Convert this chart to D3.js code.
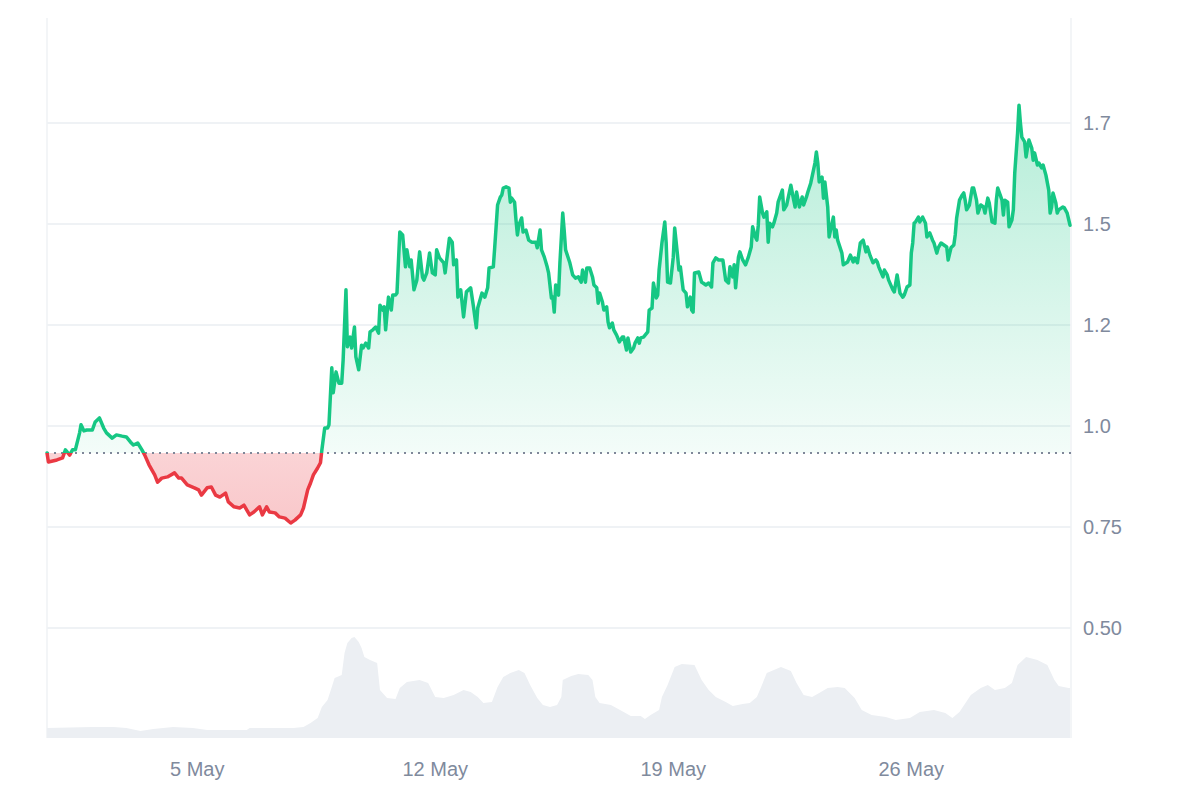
<!DOCTYPE html>
<html><head><meta charset="utf-8">
<script src="https://cdn.jsdelivr.net/npm/d3@7"></script>
<style>
html,body{margin:0;padding:0;background:#fff;}
svg{display:block;font-family:"Liberation Sans",Arial,Helvetica,sans-serif;}
</style>
</head><body>
<svg id="chart" width="1200" height="800"></svg>
<script>
// ---- data ----
const startTime = Date.UTC(2024, 3, 30, 14); // 30 Apr 14:00 UTC
const priceHours = [0,1,7,11,13,16,18,20,23,24,26,28,32,34,37,40,42,46,49,53,56,59,61,64,67,69,72,76,78,81,85,90,93,95,99,104,107,109,113,116,119,122,126,128,132,136,139,143,146,150,152,155,157,161,164,168,172,175,179,181,184,186,188,191,193,194,196,198,199,201,202,204,206,208,209,211,212,214,215,217,218,220,222,223,225,227,228,230,232,234,235,237,238,239,241,243,244,246,247,249,251,253,254,256,257,259,261,263,265,266,268,270,272,274,275,277,280,281,284,286,287,289,290,292,294,296,299,301,303,304,307,309,311,312,315,316,318,320,321,322,324,326,327,328,330,331,332,333,335,336,338,340,342,345,346,348,349,351,353,354,356,357,358,359,361,362,364,365,366,369,371,373,375,377,378,380,381,383,385,386,388,389,390,392,393,395,396,397,399,400,402,404,406,407,409,410,412,414,415,417,418,419,421,424,425,427,428,430,431,432,434,436,437,438,440,442,443,445,446,447,449,451,452,454,455,456,457,460,462,463,465,467,469,470,472,474,477,478,479,481,482,484,485,486,488,489,491,493,495,497,498,500,501,502,503,505,506,508,509,510,512,513,515,516,519,520,522,525,527,528,529,531,533,534,536,537,539,541,542,543,544,545,547,548,549,551,552,553,555,556,557,558,561,562,565,567,569,570,572,574,576,578,579,581,583,585,586,587,590,591,593,594,597,598,600,602,604,605,607,609,610,611,612,613,615,616,618,620,621,623,625,626,628,629,631,633,635,636,638,640,641,642,644,646,647,648,649,651,653,654,656,657,659,661,662,664,665,667,669,670,671,674,675,676,678,679,681,682,683,685,686,687,688,690,691,692,693,695,696,697,699,700,702,703,705,707,708,709,710,712,713,714,717,718,720,722];
const prices = [0.933,0.911,0.916,0.921,0.941,0.928,0.941,0.941,0.983,1.003,0.988,0.990,0.990,1.010,1.020,0.995,0.983,0.970,0.978,0.975,0.973,0.960,0.953,0.958,0.941,0.928,0.904,0.879,0.861,0.871,0.874,0.884,0.871,0.871,0.854,0.847,0.842,0.829,0.847,0.849,0.829,0.824,0.834,0.812,0.800,0.797,0.804,0.780,0.787,0.800,0.780,0.800,0.787,0.785,0.775,0.772,0.760,0.767,0.780,0.797,0.842,0.859,0.879,0.896,0.909,0.941,0.995,0.995,1.003,1.144,1.082,1.134,1.106,1.106,1.163,1.337,1.196,1.220,1.193,1.245,1.171,1.139,1.200,1.193,1.205,1.193,1.233,1.238,1.245,1.230,1.299,1.287,1.295,1.238,1.319,1.287,1.324,1.324,1.329,1.480,1.473,1.394,1.436,1.394,1.411,1.337,1.361,1.431,1.369,1.361,1.379,1.428,1.379,1.374,1.436,1.416,1.404,1.379,1.465,1.455,1.399,1.411,1.319,1.337,1.270,1.332,1.342,1.295,1.243,1.292,1.329,1.319,1.342,1.391,1.394,1.443,1.547,1.567,1.572,1.589,1.592,1.589,1.554,1.564,1.554,1.510,1.473,1.497,1.515,1.480,1.485,1.460,1.455,1.455,1.441,1.485,1.436,1.418,1.394,1.379,1.317,1.319,1.282,1.349,1.324,1.404,1.527,1.485,1.436,1.404,1.374,1.366,1.369,1.356,1.386,1.356,1.391,1.391,1.369,1.349,1.342,1.304,1.329,1.307,1.287,1.295,1.257,1.243,1.255,1.238,1.225,1.208,1.220,1.220,1.188,1.218,1.183,1.193,1.205,1.218,1.205,1.218,1.220,1.233,1.287,1.292,1.354,1.317,1.324,1.386,1.453,1.505,1.453,1.356,1.354,1.418,1.490,1.423,1.386,1.394,1.337,1.329,1.295,1.319,1.287,1.282,1.379,1.381,1.356,1.354,1.349,1.354,1.344,1.404,1.416,1.411,1.411,1.386,1.361,1.354,1.394,1.369,1.399,1.342,1.418,1.431,1.411,1.399,1.418,1.443,1.493,1.468,1.460,1.497,1.567,1.527,1.517,1.530,1.455,1.502,1.493,1.502,1.527,1.554,1.584,1.535,1.547,1.596,1.559,1.542,1.579,1.542,1.567,1.547,1.567,1.579,1.601,1.634,1.651,1.678,1.651,1.604,1.616,1.564,1.604,1.542,1.468,1.485,1.517,1.468,1.485,1.460,1.428,1.399,1.406,1.423,1.406,1.416,1.404,1.453,1.460,1.431,1.443,1.421,1.404,1.411,1.406,1.394,1.369,1.386,1.374,1.361,1.337,1.332,1.374,1.329,1.319,1.324,1.344,1.349,1.428,1.453,1.502,1.505,1.517,1.505,1.517,1.502,1.468,1.478,1.460,1.453,1.428,1.441,1.453,1.448,1.443,1.411,1.441,1.448,1.473,1.515,1.559,1.572,1.577,1.559,1.535,1.547,1.589,1.589,1.559,1.527,1.547,1.542,1.527,1.564,1.552,1.505,1.502,1.559,1.589,1.559,1.522,1.559,1.554,1.493,1.510,1.535,1.626,1.725,1.794,1.750,1.715,1.703,1.666,1.688,1.708,1.688,1.658,1.676,1.646,1.651,1.639,1.646,1.621,1.584,1.527,1.542,1.577,1.552,1.527,1.535,1.542,1.540,1.527,1.497];
const volumeHours = [0,32,47,56,66,75,82,89,103,113,141,143,174,181,186,191,194,198,201,203,208,210,212,215,217,220,222,224,228,233,235,240,246,249,254,263,269,274,280,287,294,299,304,308,314,318,322,327,333,337,341,346,350,355,360,363,364,370,375,382,385,387,390,398,407,412,419,422,426,432,434,438,443,448,457,462,467,472,479,484,491,496,501,504,508,513,518,525,529,534,540,545,551,558,563,570,575,582,592,599,609,616,626,634,639,644,652,659,664,669,676,681,685,691,699,706,711,714,721,722];
const volumes = [50,55,55,50,35,45,50,55,50,40,40,50,50,55,75,100,155,190,255,300,315,425,475,500,505,480,450,405,390,375,240,200,195,250,280,290,275,205,200,215,240,230,205,175,180,255,305,325,340,325,265,200,165,155,165,205,290,310,320,315,290,205,175,165,130,110,110,95,115,140,205,265,355,370,365,290,240,205,180,160,170,175,205,255,325,340,355,335,275,215,205,225,250,255,250,200,140,115,105,90,100,130,140,125,100,130,215,250,265,240,250,275,365,405,390,365,290,260,250,250];
const dateTicks = ["2024-05-05", "2024-05-12", "2024-05-19", "2024-05-26"];
const priceTicks = [0.5, 0.75, 1.0, 1.25, 1.5, 1.75];
const priceTickLabels = ["0.50", "0.75", "1.0", "1.2", "1.5", "1.7"];

// ---- layout ----
const W = 1200, H = 800;
const plotLeft = 47, plotRight = 1071, plotTop = 18, plotBottom = 738;
const green = "#16c784", red = "#ea3943", gridColor = "#eff2f5", textColor = "#808a9d";

const svg = d3.select("#chart");
const HOUR = 3600 * 1000;
const series = priceHours.map((h, i) => ({ t: new Date(startTime + h * HOUR), v: prices[i] }));
const vol = volumeHours.map((h, i) => ({ t: new Date(startTime + h * HOUR), v: volumes[i] }));

const x = d3.scaleUtc()
  .domain([new Date(startTime), new Date(startTime + priceHours[priceHours.length - 1] * HOUR)])
  .range([plotLeft, plotRight - 1]);
const y = d3.scaleLinear().domain([0.5, 1.75]).range([628, 123]);
const yVol = d3.scaleLinear().domain([0, d3.max(volumes)]).range([plotBottom, 637]);

const baseline = prices[0];
const by = y(baseline);

// gridlines
svg.append("g").selectAll("line").data(priceTicks).join("line")
  .attr("x1", plotLeft).attr("x2", plotRight)
  .attr("y1", d => y(d)).attr("y2", d => y(d))
  .attr("stroke", gridColor).attr("stroke-width", 2);

// plot side borders
svg.append("g").selectAll("line").data([plotLeft, plotRight]).join("line")
  .attr("x1", d => d).attr("x2", d => d)
  .attr("y1", plotTop).attr("y2", plotBottom)
  .attr("stroke", gridColor).attr("stroke-width", 1.5);

// volume
svg.append("path").datum(vol)
  .attr("fill", "#eceff3")
  .attr("d", d3.area().x(d => x(d.t)).y0(plotBottom).y1(d => yVol(d.v)));

// defs
const defs = svg.append("defs");
defs.append("clipPath").attr("id", "clipAbove").append("rect")
  .attr("x", 0).attr("y", 0).attr("width", W).attr("height", by);
defs.append("clipPath").attr("id", "clipBelow").append("rect")
  .attr("x", 0).attr("y", by).attr("width", W).attr("height", H - by);
const gg = defs.append("linearGradient").attr("id", "gGreen")
  .attr("gradientUnits", "userSpaceOnUse").attr("x1", 0).attr("x2", 0)
  .attr("y1", y(d3.max(prices))).attr("y2", by);
gg.append("stop").attr("offset", 0).attr("stop-color", green).attr("stop-opacity", 0.32);
gg.append("stop").attr("offset", 1).attr("stop-color", green).attr("stop-opacity", 0.05);
const gr = defs.append("linearGradient").attr("id", "gRed")
  .attr("gradientUnits", "userSpaceOnUse").attr("x1", 0).attr("x2", 0)
  .attr("y1", by).attr("y2", y(d3.min(prices)));
gr.append("stop").attr("offset", 0).attr("stop-color", red).attr("stop-opacity", 0.22);
gr.append("stop").attr("offset", 1).attr("stop-color", red).attr("stop-opacity", 0.28);

const area = d3.area().x(d => x(d.t)).y0(by).y1(d => y(d.v));
const line = d3.line().x(d => x(d.t)).y(d => y(d.v));

svg.append("path").datum(series).attr("clip-path", "url(#clipAbove)")
  .attr("fill", "url(#gGreen)").attr("d", area);
svg.append("path").datum(series).attr("clip-path", "url(#clipBelow)")
  .attr("fill", "url(#gRed)").attr("d", area);

// baseline (opening price)
svg.append("line")
  .attr("x1", plotLeft).attr("x2", plotRight).attr("y1", by).attr("y2", by)
  .attr("stroke", "#7f8799").attr("stroke-width", 2).attr("stroke-dasharray", "2,5");

svg.append("path").datum(series).attr("clip-path", "url(#clipAbove)")
  .attr("fill", "none").attr("stroke", green).attr("stroke-width", 3.5)
  .attr("stroke-linejoin", "round").attr("stroke-linecap", "round").attr("d", line);
svg.append("path").datum(series).attr("clip-path", "url(#clipBelow)")
  .attr("fill", "none").attr("stroke", red).attr("stroke-width", 3.5)
  .attr("stroke-linejoin", "round").attr("stroke-linecap", "round").attr("d", line);

// y labels (right)
svg.append("g").selectAll("text").data(priceTicks).join("text")
  .attr("x", 1083).attr("y", d => y(d))
  .attr("dy", "0.36em")
  .attr("fill", textColor).attr("font-size", 20)
  .text((d, i) => priceTickLabels[i]);

// x labels
const fmt = d3.utcFormat("%-d %b");
svg.append("g").selectAll("text").data(dateTicks.map(s => new Date(s + "T00:00:00Z"))).join("text")
  .attr("x", d => x(d)).attr("y", 769).attr("dy", "0.36em")
  .attr("text-anchor", "middle")
  .attr("fill", textColor).attr("font-size", 20)
  .text(d => fmt(d));
</script>
</body></html>
